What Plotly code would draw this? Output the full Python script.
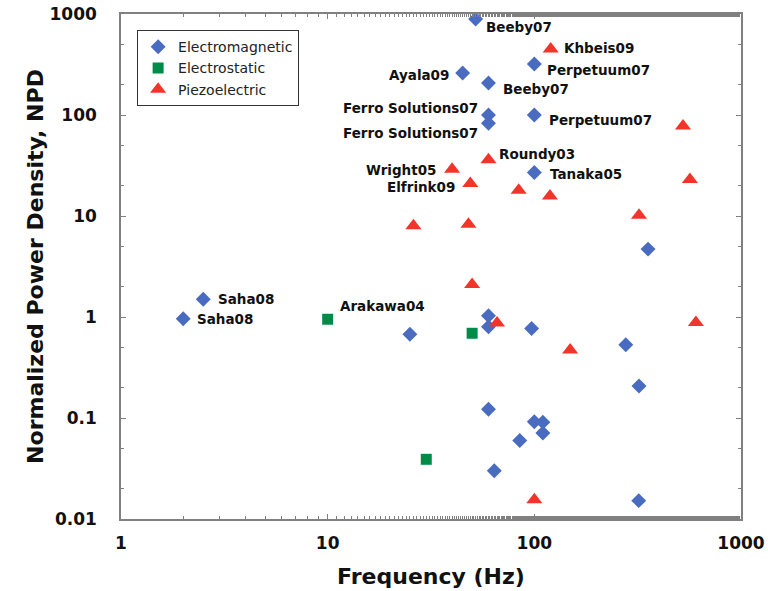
import math
import plotly.graph_objects as go

# ---------------- data ----------------
em_freq = [52, 45, 60, 100, 60, 60, 100, 100, 355, 2.5, 2.0, 60, 60, 97, 25, 277, 321, 60, 100, 110, 110, 85, 64, 320]
em_npd = [890, 260, 207, 320, 100, 83, 100, 27, 4.7, 1.5, 0.96, 1.03, 0.80, 0.77, 0.675, 0.53, 0.207, 0.122, 0.092, 0.091, 0.071, 0.060, 0.030, 0.0152]

es_freq = [10, 50, 30]
es_npd = [0.95, 0.69, 0.039]

pz_freq = [120, 524, 60, 40, 49, 84, 119, 566, 321, 26, 48, 50, 66, 605, 149, 100]
pz_npd = [450, 78, 36, 29, 21, 18, 15.8, 23, 10.2, 8.0, 8.3, 2.1, 0.87, 0.88, 0.47, 0.0155]

# point labels: text, x, y, side, xshift, yshift
label_text = ["Beeby07", "Khbeis09", "Perpetuum07", "Ayala09", "Beeby07",
              "Ferro Solutions07", "Ferro Solutions07", "Perpetuum07", "Roundy03",
              "Wright05", "Elfrink09", "Tanaka05", "Saha08", "Saha08", "Arakawa04"]
label_x = [52, 120, 100, 45, 60, 60, 60, 100, 60, 40, 49, 100, 2.5, 2.0, 10]
label_y = [890, 450, 320, 260, 207, 100, 83, 100, 36, 29, 21, 27, 1.5, 0.96, 0.95]
label_side = ["left", "left", "left", "right", "left", "right", "right", "left", "left",
              "right", "right", "left", "left", "left", "left"]
label_dx = [8, 11, 11, -12, 13, -8, -8, 13, 9, -14, -13, 14, 13, 12, 10]
label_dy = [-8, 1, -6, -2, -6, 7, -10, -5, 6, -1, -4, -2, 0, 0, 13]

x_ticks = [1, 10, 100, 1000]
x_ticktext = ["1", "10", "100", "1000"]
y_ticks = [0.01, 0.1, 1, 10, 100, 1000]
y_ticktext = ["0.01", "0.1", "1", "10", "100", "1000"]

BLUE = "#4a6cc0"
GREEN = "#008c48"
RED = "#f2352b"
FONT = "DejaVu Sans"

fig = go.Figure()
fig.add_trace(go.Scatter(x=em_freq, y=em_npd, mode="markers", name="Electromagnetic",
                         marker=dict(symbol="diamond", size=11.5, color=BLUE, line=dict(width=0))))
fig.add_trace(go.Scatter(x=es_freq, y=es_npd, mode="markers", name="Electrostatic",
                         marker=dict(symbol="square", size=11, color=GREEN, line=dict(width=0))))
fig.add_trace(go.Scatter(x=pz_freq, y=pz_npd, mode="markers", name="Piezoelectric",
                         marker=dict(symbol="triangle-up", size=14, color=RED, line=dict(width=0))))

# annotations on log axes take log10 coordinates
for t, x, y, s, dx, dy in zip(label_text, label_x, label_y, label_side, label_dx, label_dy):
    fig.add_annotation(x=math.log10(x), y=math.log10(y), xref="x", yref="y", text=t,
                       showarrow=False, xanchor=s, yanchor="middle", xshift=dx, yshift=dy,
                       font=dict(family=FONT, size=13.5, color="#111111", weight="bold"))

axis_common = dict(
    type="log", showgrid=False, zeroline=False, automargin=False,
    showline=True, linecolor="#808080", linewidth=1.5, mirror="allticks",
    ticks="inside", ticklen=5, tickwidth=1, tickcolor="#808080",
    minor=dict(ticks="inside", ticklen=3, tickwidth=1, tickcolor="#808080", showgrid=False),
    tickfont=dict(family=FONT, size=17, color="#111111", weight="bold"),
    tickmode="array",
)

fig.update_xaxes(**axis_common, range=[0, 3], tickvals=x_ticks, ticktext=x_ticktext,
                 ticklabelstandoff=8,
                 title=dict(text="Frequency (Hz)", standoff=16,
                            font=dict(family=FONT, size=22, color="#111111", weight="bold")))
fig.update_yaxes(**axis_common, range=[-2, 3], tickvals=y_ticks, ticktext=y_ticktext,
                 ticklabelstandoff=19,
                 title=dict(text="Normalized Power Density, NPD", standoff=0,
                            font=dict(family=FONT, size=22, color="#111111", weight="bold")))

fig.update_layout(
    width=768, height=591,
    margin=dict(l=121, r=27, t=14, b=72),
    plot_bgcolor="white", paper_bgcolor="white",
    showlegend=True,
    legend=dict(x=0.026, y=0.968, xanchor="left", yanchor="top",
                bgcolor="white", bordercolor="#333333", borderwidth=1,
                font=dict(family=FONT, size=14, color="#222222"),
                tracegroupgap=0, itemwidth=30),
)

fig.write_html("out.html", config={"displayModeBar": False},
               post_script="document.body.style.margin='0';document.body.style.overflow='hidden';")
